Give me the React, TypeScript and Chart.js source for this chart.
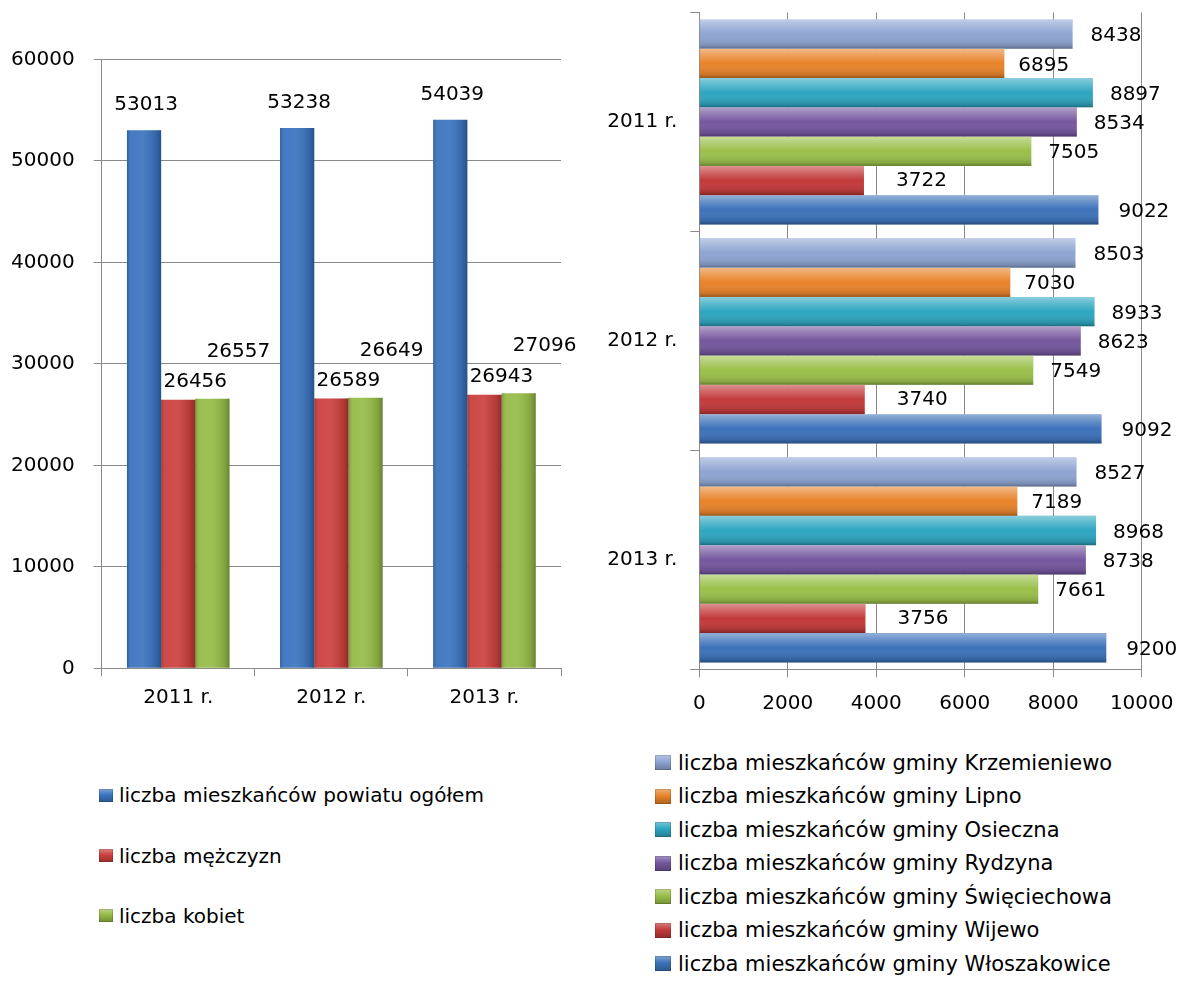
import React, { useEffect, useRef } from 'react';
import { Chart, registerables } from 'chart.js';

Chart.register(...registerables);

const FONT = '"DejaVu Sans", sans-serif';

// ---- Left chart data ----
const years = ['2011 r.', '2012 r.', '2013 r.'];
const countyTotal = [53013, 53238, 54039];
const menCount = [26456, 26589, 26943];
const womenCount = [26557, 26649, 27096];
const leftSeriesNames = [
  'liczba mieszkańców powiatu ogółem',
  'liczba mężczyzn',
  'liczba kobiet',
];
const leftAxisMax = 60000;
const leftAxisStep = 10000;

// ---- Right chart data ----
const gminaNames = [
  'liczba mieszkańców gminy Krzemieniewo',
  'liczba mieszkańców gminy Lipno',
  'liczba mieszkańców gminy Osieczna',
  'liczba mieszkańców gminy Rydzyna',
  'liczba mieszkańców gminy Święciechowa',
  'liczba mieszkańców gminy Wijewo',
  'liczba mieszkańców gminy Włoszakowice',
];
const krzemieniewo = [8438, 8503, 8527];
const lipno = [6895, 7030, 7189];
const osieczna = [8897, 8933, 8968];
const rydzyna = [8534, 8623, 8738];
const swieciechowa = [7505, 7549, 7661];
const wijewo = [3722, 3740, 3756];
const wloszakowice = [9022, 9092, 9200];
const rightAxisMax = 10000;
const rightAxisStep = 2000;

// ---- Styles ----
const leftColors = ['#3b74c0', '#cb403d', '#95bc48'];
const rightColors = ['#8ea5d2', '#e8832a', '#2ea6c0', '#75579f', '#9ac04a', '#c33a3b', '#3d72ba'];
const GRID = '#8a8a8a';

const shadePlugin = {
  id: 'shade',
  afterDatasetsDraw(chart: any) {
    const ctx = chart.ctx as CanvasRenderingContext2D;
    const horizontal = chart.options.indexAxis === 'y';
    ctx.save();
    chart.data.datasets.forEach((_ds: any, i: number) => {
      const meta = chart.getDatasetMeta(i);
      meta.data.forEach((el: any) => {
        const p = el.getProps(['x', 'y', 'base', 'width', 'height'], true);
        let l: number, t: number, w: number, h: number;
        let g: CanvasGradient;
        if (horizontal) {
          l = Math.min(p.base, p.x);
          w = Math.abs(p.x - p.base);
          t = p.y - p.height / 2;
          h = p.height;
          g = ctx.createLinearGradient(0, t, 0, t + h);
          g.addColorStop(0, 'rgba(255,255,255,0.45)');
          g.addColorStop(0.2, 'rgba(255,255,255,0.25)');
          g.addColorStop(0.5, 'rgba(255,255,255,0.0)');
          g.addColorStop(0.9, 'rgba(0,0,0,0.15)');
          g.addColorStop(1, 'rgba(0,0,0,0.35)');
        } else {
          l = p.x - p.width / 2;
          w = p.width;
          t = Math.min(p.y, p.base);
          h = Math.abs(p.base - p.y);
          g = ctx.createLinearGradient(l, 0, l + w, 0);
          g.addColorStop(0, 'rgba(0,0,0,0.2)');
          g.addColorStop(0.15, 'rgba(255,255,255,0.05)');
          g.addColorStop(0.45, 'rgba(255,255,255,0.08)');
          g.addColorStop(0.85, 'rgba(0,0,0,0.12)');
          g.addColorStop(1, 'rgba(0,0,0,0.3)');
        }
        ctx.fillStyle = g;
        ctx.fillRect(l, t, w, h);
      });
    });
    ctx.restore();
  },
};

function makeLabelPlugin(dx: number[], dy: number[], align: CanvasTextAlign, size: number) {
  return {
    id: 'valueLabels',
    afterDatasetsDraw(chart: any) {
      const ctx = chart.ctx as CanvasRenderingContext2D;
      ctx.save();
      ctx.font = `${size}px ${FONT}`;
      ctx.fillStyle = '#000';
      ctx.textAlign = align;
      ctx.textBaseline = 'middle';
      chart.data.datasets.forEach((ds: any, i: number) => {
        const meta = chart.getDatasetMeta(i);
        meta.data.forEach((el: any, j: number) => {
          const p = el.getProps(['x', 'y'], true);
          ctx.fillText(String(ds.data[j]), p.x + dx[i], p.y + dy[i]);
        });
      });
      ctx.restore();
    },
  };
}

function LegendBox({ color, size }: { color: string; size: number }) {
  return (
    <span
      style={{
        display: 'inline-block',
        width: size,
        height: size - 1,
        background: `linear-gradient(to bottom, rgba(255,255,255,0.35), rgba(255,255,255,0) 45%, rgba(0,0,0,0.25)), ${color}`,
        boxShadow: 'inset 0 0 0 1px rgba(0,0,0,0.15)',
        flex: '0 0 auto',
      }}
    />
  );
}

const plainNumber = (v: any) => String(v);

export default function App() {
  const leftRef = useRef<HTMLCanvasElement | null>(null);
  const rightRef = useRef<HTMLCanvasElement | null>(null);

  useEffect(() => {
    const tickFont = { family: FONT, size: 20 };

    const left = new Chart(leftRef.current as HTMLCanvasElement, {
      type: 'bar',
      data: {
        labels: years,
        datasets: [
          { label: leftSeriesNames[0], data: countyTotal, backgroundColor: leftColors[0] },
          { label: leftSeriesNames[1], data: menCount, backgroundColor: leftColors[1] },
          { label: leftSeriesNames[2], data: womenCount, backgroundColor: leftColors[2] },
        ],
      },
      options: {
        responsive: true,
        maintainAspectRatio: false,
        animation: false,
        events: [],
        datasets: { bar: { barPercentage: 1, categoryPercentage: 0.67 } },
        layout: { padding: { left: 0, top: 59.3, right: 39, bottom: 11.7 } },
        plugins: { legend: { display: false }, tooltip: { enabled: false } },
        scales: {
          x: {
            offset: true,
            grid: { display: true, drawOnChartArea: false, drawTicks: true, tickLength: 8, color: GRID, offset: true },
            border: { display: true, color: GRID, width: 1 },
            ticks: { font: tickFont, color: '#000', padding: 9 },
            afterFit: (s: any) => { s.height = 60; s.paddingLeft = 0; s.paddingRight = 0; },
          },
          y: {
            min: 0,
            max: leftAxisMax,
            ticks: { stepSize: leftAxisStep, font: tickFont, color: '#000', padding: 19, callback: plainNumber },
            grid: { color: GRID, tickLength: 8, drawTicks: true },
            border: { display: true, color: GRID, width: 1 },
            afterFit: (s: any) => { s.width = 101.7; s.paddingTop = 0; s.paddingBottom = 0; },
          },
        },
      },
      plugins: [shadePlugin, makeLabelPlugin([2, 17, 26], [-25, -18, -47], 'center', 20)],
    } as any);

    const right = new Chart(rightRef.current as HTMLCanvasElement, {
      type: 'bar',
      data: {
        labels: years,
        datasets: [
          { label: gminaNames[0], data: krzemieniewo, backgroundColor: rightColors[0] },
          { label: gminaNames[1], data: lipno, backgroundColor: rightColors[1] },
          { label: gminaNames[2], data: osieczna, backgroundColor: rightColors[2] },
          { label: gminaNames[3], data: rydzyna, backgroundColor: rightColors[3] },
          { label: gminaNames[4], data: swieciechowa, backgroundColor: rightColors[4] },
          { label: gminaNames[5], data: wijewo, backgroundColor: rightColors[5] },
          { label: gminaNames[6], data: wloszakowice, backgroundColor: rightColors[6] },
        ],
      },
      options: {
        indexAxis: 'y',
        responsive: true,
        maintainAspectRatio: false,
        animation: false,
        events: [],
        datasets: { bar: { barPercentage: 1, categoryPercentage: 0.937 } },
        layout: { padding: { left: 0, top: 12.5, right: 42.3, bottom: 10.7 } },
        plugins: { legend: { display: false }, tooltip: { enabled: false } },
        scales: {
          x: {
            min: 0,
            max: rightAxisMax,
            ticks: { stepSize: rightAxisStep, font: tickFont, color: '#000', padding: 14.7, callback: plainNumber },
            grid: { color: GRID, tickLength: 8, drawTicks: true },
            border: { display: true, color: GRID, width: 1 },
            afterFit: (s: any) => { s.height = 60; s.paddingLeft = 0; s.paddingRight = 0; },
          },
          y: {
            offset: true,
            grid: { display: true, drawOnChartArea: false, drawTicks: true, tickLength: 9, color: GRID, offset: true },
            border: { display: true, color: GRID, width: 1 },
            ticks: { font: tickFont, color: '#000', padding: 13 },
            afterFit: (s: any) => { s.width = 99.3; s.paddingTop = 0; s.paddingBottom = 0; },
          },
        },
      },
      plugins: [shadePlugin, makeLabelPlugin([18, 14, 17, 17, 17, 32, 20], [2, 2, 2, 2, 2, 0, 2], 'left', 20)],
    } as any);

    return () => {
      left.destroy();
      right.destroy();
    };
  }, []);

  const leftRows = [795, 855.5, 915.5];
  const rightRows = [762.5, 796, 829.5, 863, 896.5, 930, 963.5];

  return (
    <div
      style={{
        position: 'absolute',
        left: 0,
        top: 0,
        width: 1184,
        height: 981,
        background: '#fff',
        overflow: 'hidden',
        fontFamily: FONT,
        color: '#000',
      }}
    >
      <div style={{ position: 'absolute', left: 0, top: 0, width: 600, height: 740 }}>
        <canvas ref={leftRef} />
      </div>
      <div style={{ position: 'absolute', left: 600, top: 0, width: 584, height: 740 }}>
        <canvas ref={rightRef} />
      </div>
      {leftSeriesNames.map((name, i) => (
        <div
          key={name}
          style={{
            position: 'absolute',
            left: 99,
            top: leftRows[i] - 14,
            height: 28,
            display: 'flex',
            alignItems: 'center',
            whiteSpace: 'nowrap',
            fontSize: 20,
          }}
        >
          <LegendBox color={leftColors[i]} size={14} />
          <span style={{ marginLeft: 6 }}>{name}</span>
        </div>
      ))}
      {gminaNames.map((name, i) => (
        <div
          key={name}
          style={{
            position: 'absolute',
            left: 655,
            top: rightRows[i] - 14,
            height: 28,
            display: 'flex',
            alignItems: 'center',
            whiteSpace: 'nowrap',
            fontSize: 21,
          }}
        >
          <LegendBox color={rightColors[i]} size={16} />
          <span style={{ marginLeft: 7 }}>{name}</span>
        </div>
      ))}
    </div>
  );
}
